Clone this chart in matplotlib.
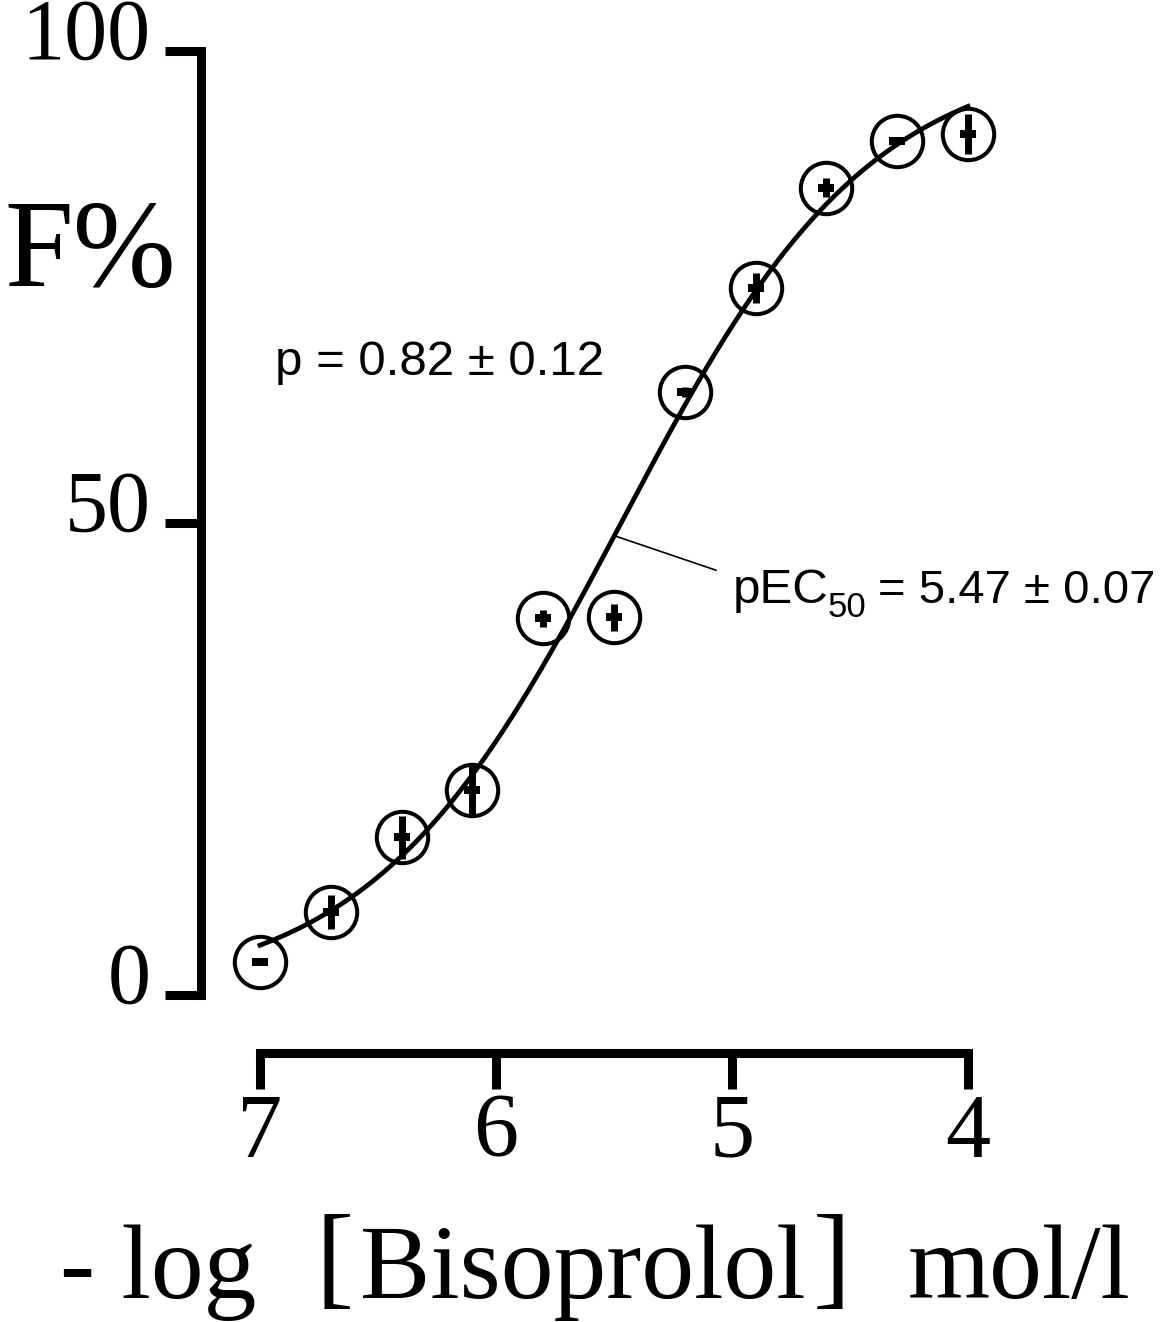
import numpy as np
import matplotlib
matplotlib.use("Agg")
import matplotlib.pyplot as plt
from matplotlib.transforms import ScaledTranslation

# ---- data ----
x_vals = [7.0, 6.7, 6.4, 6.1, 5.8, 5.5, 5.2, 4.9, 4.6, 4.3, 4.0]   # -log[Bisoprolol]
f_vals = [3.5, 8.8, 16.7, 21.7, 39.9, 40.0, 63.9, 74.9, 85.5, 90.5, 91.2]  # F %
f_err = [0.3, 1.8, 2.3, 2.6, 0.9, 1.4, 0.5, 1.6, 1.0, 0.3, 2.1]
pEC50 = 5.47
hill_p = 0.82
f_top = 100.0
x_ticks = [7, 6, 5, 4]
y_ticks = [0, 50, 100]

W, H = 1169, 1322
SERIF = "Liberation Serif"
SANS = "Liberation Sans"

fig = plt.figure(figsize=(W / 100, H / 100), dpi=100)
ax = fig.add_axes([260 / W, (H - 995) / H, 708 / W, 944 / H])
ax.set_xlim(7, 4)
ax.set_ylim(0, 100)

def fpos(x, y):
    return x / W, 1 - y / H

# fitted curve (Hill equation from the stated parameters)
xs = np.linspace(7, 4, 400)
ys = f_top / (1 + 10 ** (hill_p * (xs - pEC50)))
ax.plot(xs, ys, color="black", lw=3.4, clip_on=False, zorder=2)

# error bars + centre dash
dash = [(-1, -0.5), (1, -0.5), (1, 0.5), (-1, 0.5), (-1, -0.5)]
ax.errorbar(x_vals, f_vals, yerr=f_err, fmt="none", ecolor="black",
            elinewidth=5, capsize=0, clip_on=False, zorder=3)
ax.plot(x_vals, f_vals, linestyle="none", marker=dash, markersize=11.5,
        markerfacecolor="black", markeredgecolor="black", markeredgewidth=0,
        clip_on=False, zorder=4)
# open circles
ax.plot(x_vals, f_vals, linestyle="none", marker="o", markersize=37,
        markerfacecolor="none", markeredgecolor="black", markeredgewidth=2.9,
        clip_on=False, zorder=5)

# spines
for s in ["top", "right"]:
    ax.spines[s].set_visible(False)
ax.spines["left"].set_position(("data", 7.25))
ax.spines["left"].set_bounds(0, 100)
ax.spines["bottom"].set_position(("data", -6.14))
ax.spines["bottom"].set_bounds(4, 7)
for s in ["left", "bottom"]:
    ax.spines[s].set_linewidth(6.5)

ax.set_xticks(x_ticks)
ax.set_xticklabels([str(t) for t in x_ticks])
ax.set_yticks(y_ticks)
ax.set_yticklabels([str(t) for t in y_ticks])
ax.tick_params(axis="both", direction="out", length=26, width=6.5, color="black")
ax.tick_params(axis="y", pad=10)
ax.tick_params(axis="x", pad=3)
for lab in ax.get_yticklabels():
    lab.set_fontfamily(SERIF)
    lab.set_fontsize(62)
    lab.set_verticalalignment("baseline")
    lab.set_transform(lab.get_transform() + ScaledTranslation(0, -8 / 100, fig.dpi_scale_trans))
for lab in ax.get_xticklabels():
    lab.set_fontfamily(SERIF)
    lab.set_fontsize(65)

# y label
fig.text(*fpos(4, 286), "F%", fontsize=89, family=SERIF, ha="left", va="baseline")

# x label pieces
fig.text(*fpos(60, 1298), "- log", fontsize=76, family=SERIF, ha="left", va="baseline")
fig.text(*fpos(334, 1294), "[", fontsize=82, family=SERIF, ha="center", va="baseline")
fig.text(*fpos(360, 1298), "Bisoprolol", fontsize=76, family=SERIF, ha="left", va="baseline")
fig.text(*fpos(832, 1294), "]", fontsize=82, family=SERIF, ha="center", va="baseline")
fig.text(*fpos(908, 1298), "mol/l", fontsize=76, family=SERIF, ha="left", va="baseline")

# annotations
fig.text(*fpos(275, 375), "p = 0.82 \u00b1 0.12", fontsize=35.5, family=SANS,
         ha="left", va="baseline")
fig.text(*fpos(733, 603), "pEC", fontsize=35.5, family=SANS, ha="left", va="baseline")
fig.text(*fpos(828, 617), "50", fontsize=25, family=SANS, ha="left", va="baseline")
fig.text(*fpos(878, 603), "= 5.47 \u00b1 0.07", fontsize=34, family=SANS,
         ha="left", va="baseline")
# leader line from the curve to the pEC50 label
ax.plot([5.504, 5.068], [48.7, 45.0], color="black", lw=1.2, clip_on=False, zorder=2)

fig.savefig("out.png", dpi=100)
